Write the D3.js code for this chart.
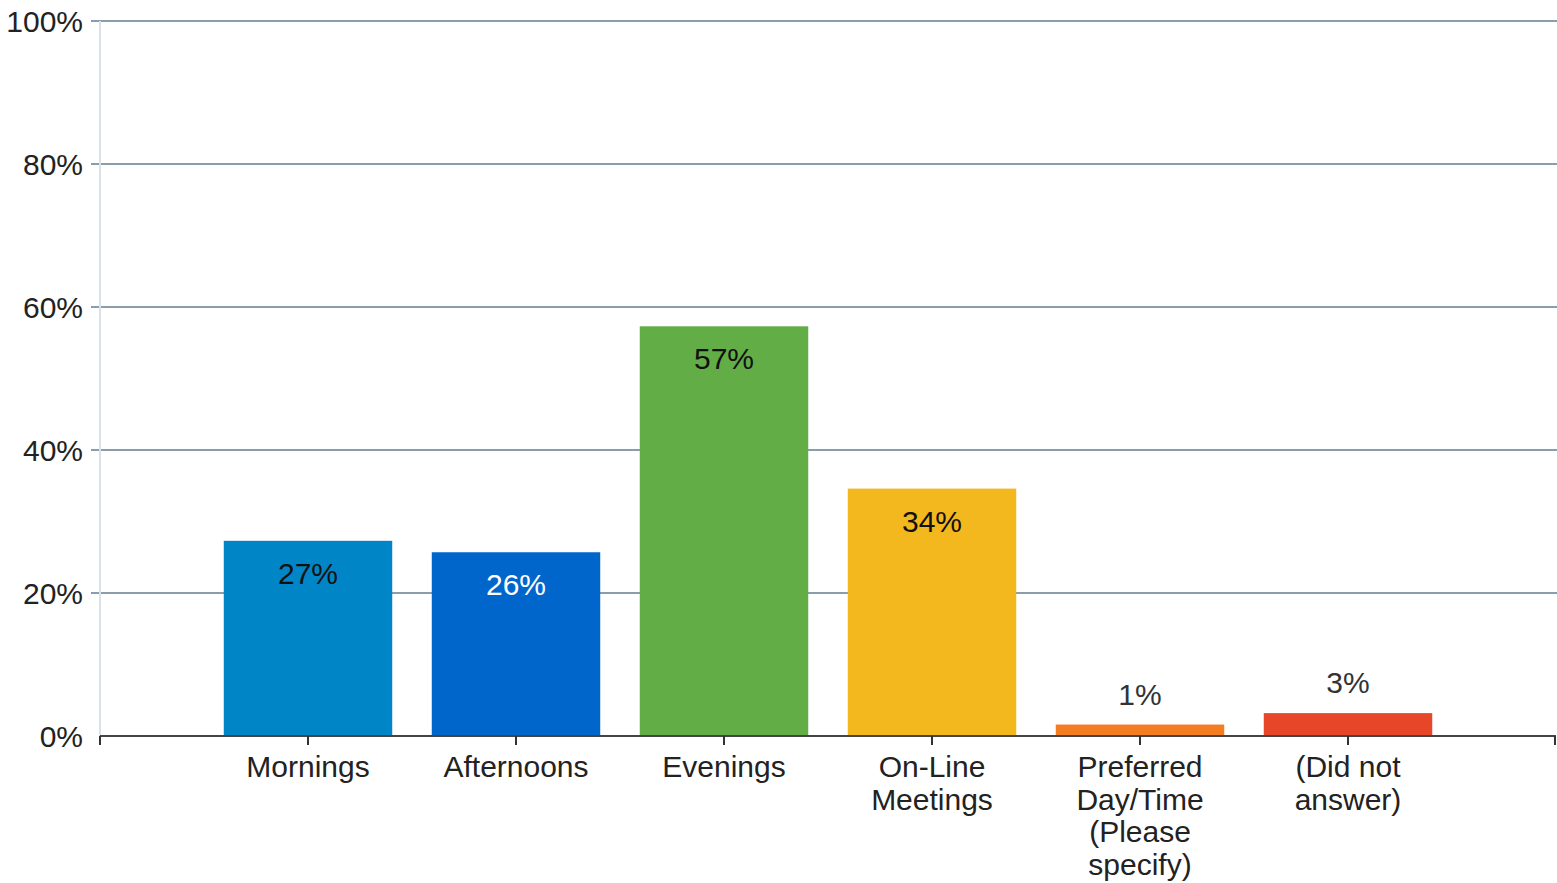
<!DOCTYPE html>
<html>
<head>
<meta charset="utf-8">
<script src="https://cdn.jsdelivr.net/npm/d3@7"></script>
<style>
  body { margin: 0; background: #fff; }
  text { font-family: "Liberation Sans", Arial, sans-serif; }
</style>
</head>
<body>
<div class="chart"></div>
<script>
// data
var categories = [
  ['Mornings'],
  ['Afternoons'],
  ['Evenings'],
  ['On-Line', 'Meetings'],
  ['Preferred', 'Day/Time', '(Please', 'specify)'],
  ['(Did not', 'answer)']
]
var values = [27.3, 25.7, 57.3, 34.6, 1.6, 3.2]
var valueLabels = ['27%', '26%', '57%', '34%', '1%', '3%']
var barColors = ['#0086c7', '#0066cb', '#62ad46', '#f3b81e', '#f47c21', '#e84629']
var labelColors = ['#111', '#fff', '#111', '#111', '#333', '#333']
var yTicks = [0, 20, 40, 60, 80, 100]

var width = 1557, height = 883
var margin = {top: 21, right: 1, bottom: 147, left: 100}

function drawChart() {
    const svg = d3.select('.chart')
      .append('svg')
        .attr('width', width)
        .attr('height', height)

    var x = d3.scalePoint()
        .domain(d3.range(categories.length))
        .range([margin.left, width - margin.right])
        .padding(1)

    var y = d3.scaleLinear()
        .domain([0, 100])
        .range([height - margin.bottom, margin.top])

    var barWidth = x.step() * 0.81

    // gridlines
    svg.append('g')
        .selectAll('line')
        .data(yTicks.filter(d => d > 0))
        .enter()
        .append('line')
        .attr('x1', margin.left - 9)
        .attr('x2', width)
        .attr('y1', d => y(d))
        .attr('y2', d => y(d))
        .attr('stroke', '#8b9daa')
        .attr('stroke-width', 2)

    // y axis line
    svg.append('line')
        .attr('x1', margin.left).attr('x2', margin.left)
        .attr('y1', y(100)).attr('y2', y(0))
        .attr('stroke', '#d9e1ea')
        .attr('stroke-width', 2)

    // y tick labels
    svg.append('g')
        .selectAll('text')
        .data(yTicks)
        .enter()
        .append('text')
        .attr('x', margin.left - 17)
        .attr('y', d => y(d) + 11)
        .attr('text-anchor', 'end')
        .style('font-size', '30px')
        .style('fill', '#222')
        .text(d => d + '%')

    // bars
    svg.append('g')
        .selectAll('rect')
        .data(values)
        .enter()
        .append('rect')
        .attr('x', (d, i) => x(i) - barWidth / 2)
        .attr('y', d => y(d))
        .attr('width', barWidth)
        .attr('height', d => y(0) - y(d))
        .attr('fill', (d, i) => barColors[i])

    // value labels, inside the bar unless it's too short
    svg.append('g')
        .selectAll('text')
        .data(values)
        .enter()
        .append('text')
        .attr('x', (d, i) => x(i))
        .attr('y', d => (y(0) - y(d)) > 50 ? y(d) + 43 : y(d) - 20)
        .attr('text-anchor', 'middle')
        .style('font-size', '30px')
        .style('fill', (d, i) => labelColors[i])
        .text((d, i) => valueLabels[i])

    // x axis line + ticks
    var axisY = y(0)
    svg.append('line')
        .attr('x1', margin.left).attr('x2', width - margin.right)
        .attr('y1', axisY).attr('y2', axisY)
        .attr('stroke', '#444')
        .attr('stroke-width', 2)

    var tickXs = [margin.left].concat(d3.range(categories.length).map(i => x(i)), [width - margin.right - 1])
    svg.append('g')
        .selectAll('line')
        .data(tickXs)
        .enter()
        .append('line')
        .attr('x1', d => d).attr('x2', d => d)
        .attr('y1', axisY).attr('y2', axisY + 9)
        .attr('stroke', '#333')
        .attr('stroke-width', 2)

    // category labels
    var cat = svg.append('g')
        .selectAll('text')
        .data(categories)
        .enter()
        .append('text')
        .attr('text-anchor', 'middle')
        .style('font-size', '30px')
        .style('fill', '#222')

    cat.selectAll('tspan')
        .data((d, i) => d.map(line => ({line: line, i: i})))
        .enter()
        .append('tspan')
        .attr('x', d => x(d.i))
        .attr('y', (d, j) => axisY + 41 + j * 32.5)
        .text(d => d.line)
}

drawChart()
</script>
</body>
</html>
